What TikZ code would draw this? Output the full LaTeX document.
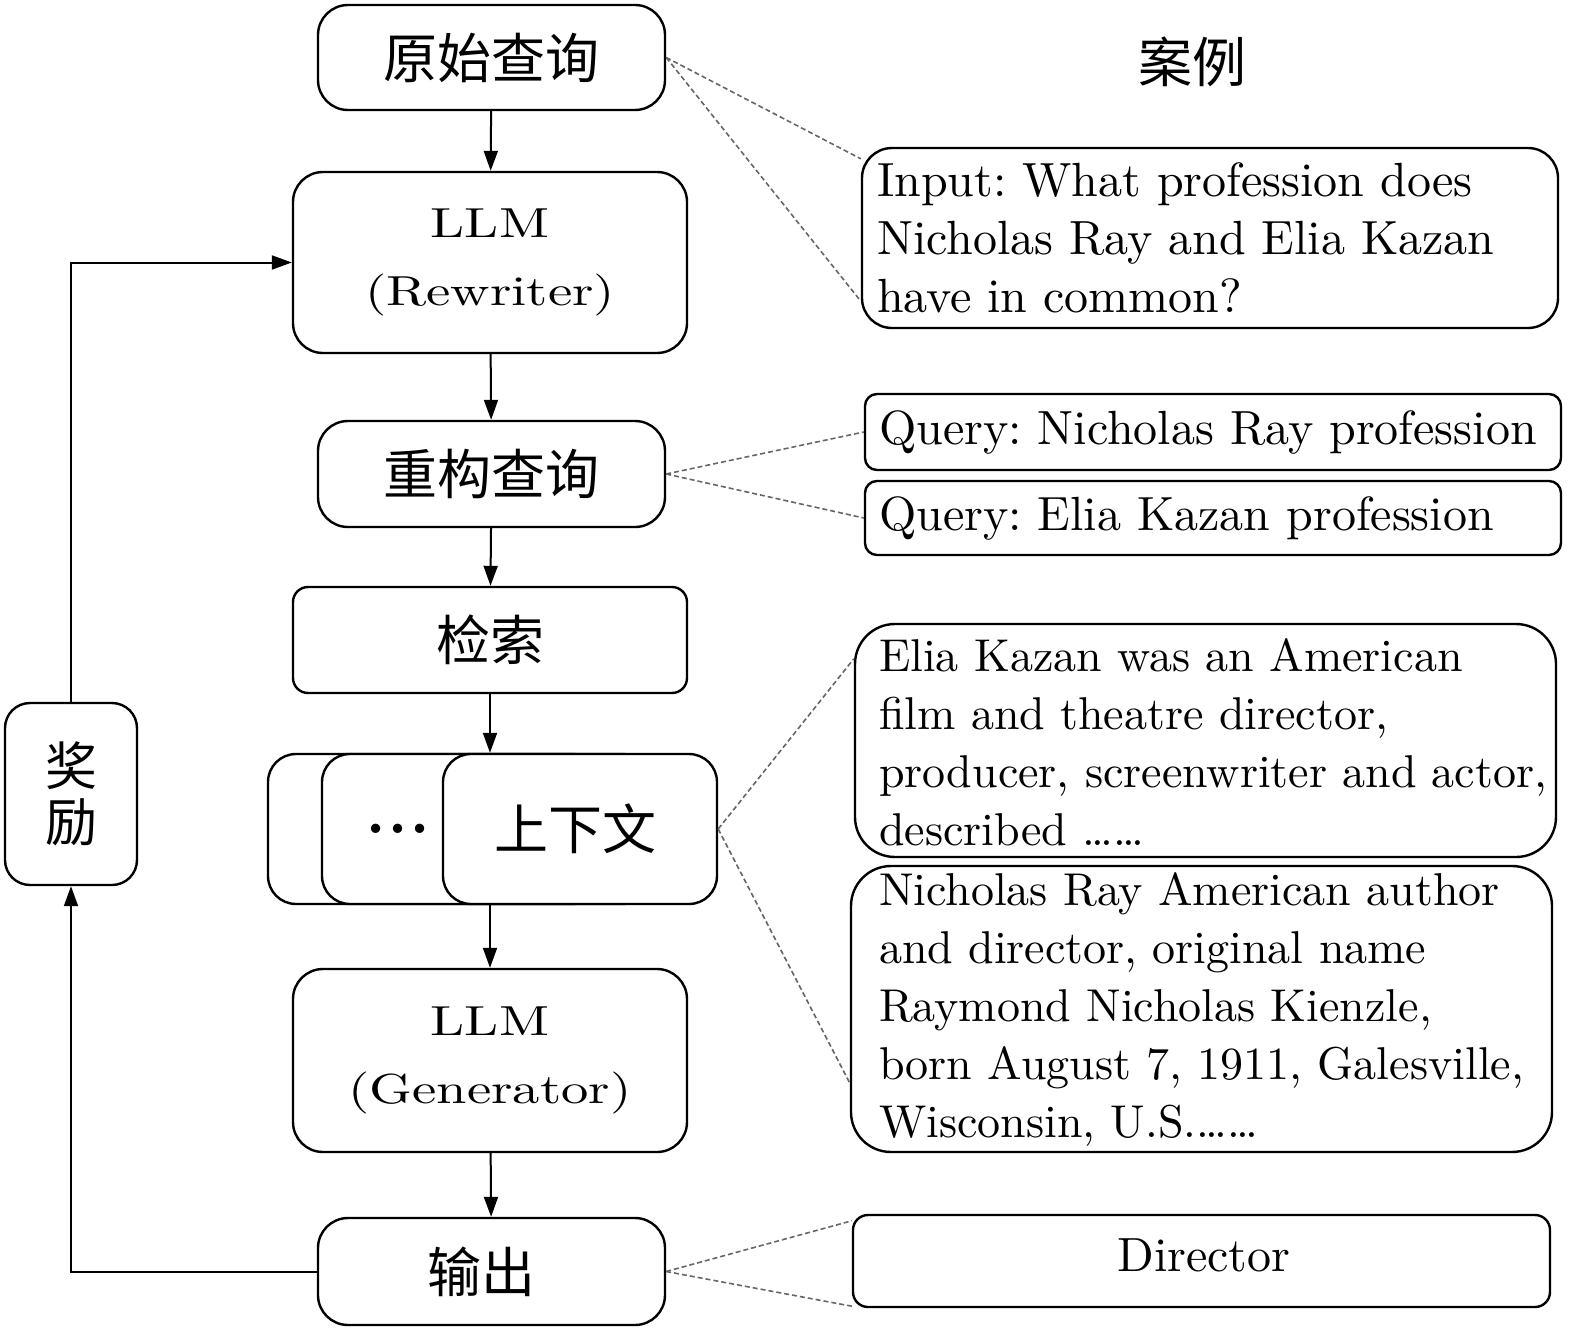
\documentclass[tikz,border=0pt]{standalone}
\usepackage{fontspec}
\setmainfont{lmroman10-regular}[Extension=.otf, BoldFont=lmroman10-bold, ItalicFont=lmroman10-italic]
\newfontfamily\cjk{Noto Sans CJK SC}
\usetikzlibrary{arrows.meta}
\frenchspacing
\begin{document}
\begin{tikzpicture}[x=1pt,y=-1pt,
  box/.style={draw, line width=2.4pt, rounded corners=#1, fill=white, inner sep=0pt},
  cjkfont/.style={font=\fontsize{54}{60}\selectfont\cjk},
  llmfont/.style={font=\fontsize{42}{68}\selectfont, align=center},
  txt/.style={font=\fontsize{48}{58}\selectfont\frenchspacing, align=left, inner sep=0pt, anchor=west},
  smtxt/.style={txt, font=\fontsize{46}{58}\selectfont\frenchspacing},
  arr/.style={-{Triangle[length=20pt,width=14pt]}, line width=2pt},
  dsh/.style={draw=black!60, line width=1.6pt, dash pattern=on 5pt off 3pt}]
\useasboundingbox (0,0) rectangle (1575,1335);

% left column
\node[box=30pt, minimum width=347pt, minimum height=105pt, cjkfont] (orig) at (491.5,57.5) {原始查询};
\node[box=30pt, minimum width=394pt, minimum height=181pt, llmfont] (rw) at (490,262.5) {\scalebox{1.3}[1]{LLM}\\\scalebox{1.3}[1]{(Rewriter)}};
\node[box=30pt, minimum width=347pt, minimum height=106pt, cjkfont] (recon) at (491.5,474) {重构查询};
\node[box=15pt, minimum width=394pt, minimum height=106pt, cjkfont] (ret) at (490,640) {检索};
\node[box=28pt, minimum width=332pt, minimum height=150pt] (ctxa) at (434,829) {};
\node[box=28pt, minimum width=328pt, minimum height=150pt] (ctxb) at (486,829) {};
\node[font=\fontsize{60}{64}\selectfont\bfseries, inner sep=0pt] (dots) at (398,829) {{.}\hspace{3pt}{.}\hspace{3pt}{.}};
\node[box=28pt, minimum width=274pt, minimum height=150pt, cjkfont] (ctx) at (580,829) {\hspace*{-10pt}上下文};
\node[box=30pt, minimum width=394pt, minimum height=183pt, llmfont] (gen) at (490,1060.5) {\scalebox{1.3}[1]{LLM}\\\scalebox{1.3}[1]{(Generator)}};
\node[box=30pt, minimum width=347pt, minimum height=107pt, cjkfont] (out) at (491.5,1271.5) {\hspace*{-20pt}输出};
\node[box=25pt, minimum width=132pt, minimum height=182pt, align=center, font=\fontsize{52}{56}\selectfont\cjk] (rew) at (71,794) {奖\\励};

\draw[arr] (orig) -- (rw);
\draw[arr] (rw) -- (recon);
\draw[arr] (recon) -- (ret);
\draw[arr] (ret.south) -- (ret.south |- ctx.north);
\draw[arr] (ret.south |- ctx.south) -- (gen.north);
\draw[arr] (gen) -- (out);
\draw[arr] (out.west) -| (rew.south);
\draw[arr] (rew.north) |- (rw.west);

% right column
\node[cjkfont] (case) at (1192,62) {案例};
\node[box=30pt, minimum width=696pt, minimum height=180pt] (inp) at (1210,238) {};
\node[txt] (inptxt) at ([xshift=16pt]inp.west) {Input: What profession does\\Nicholas Ray and Elia Kazan\\have in common?};
\node[box=12pt, minimum width=696pt, minimum height=76pt] (q1) at (1213,432) {};
\node[txt] (q1txt) at ([xshift=15pt]q1.west) {Query: Nicholas Ray profession};
\node[box=12pt, minimum width=696pt, minimum height=74pt] (q2) at (1213,518) {};
\node[txt] (q2txt) at ([xshift=15pt]q2.west) {Query: Elia Kazan profession};
\node[box=40pt, minimum width=701pt, minimum height=233pt] (elia) at (1205.5,740.5) {};
\node[smtxt] (eliatxt) at ([xshift=25pt,yshift=-2pt]elia.west) {Elia Kazan was an American\\film and theatre director,\\producer, screenwriter and actor,\\described \dots\dots};
\node[box=40pt, minimum width=701pt, minimum height=286pt] (nich) at (1201.5,1009) {};
\node[smtxt] (nichtxt) at ([xshift=29pt]nich.west) {Nicholas Ray American author\\and director, original name\\Raymond Nicholas Kienzle,\\born August 7, 1911, Galesville,\\Wisconsin, U.S.\dots\dots};
\node[box=15pt, minimum width=697pt, minimum height=92pt] (dir) at (1201.5,1261) {};
\node[font=\fontsize{48}{58}\selectfont, inner sep=0pt] (dirtxt) at (1204,1255) {Director};

% dashed connectors
\draw[dsh] (orig.east) -- ([yshift=-12pt]inp.north west);
\draw[dsh] (orig.east) -- ([yshift=28pt]inp.south west);
\draw[dsh] (recon.east) -- (q1.west);
\draw[dsh] (recon.east) -- (q2.west);
\draw[dsh] (ctx.east) -- ([yshift=-36pt]elia.north west);
\draw[dsh] (ctx.east) -- ([yshift=70pt]nich.south west);
\draw[dsh] (out.east) -- ([yshift=-7pt]dir.north west);
\draw[dsh] (out.east) -- ([yshift=2pt]dir.south west);
\end{tikzpicture}
\end{document}
